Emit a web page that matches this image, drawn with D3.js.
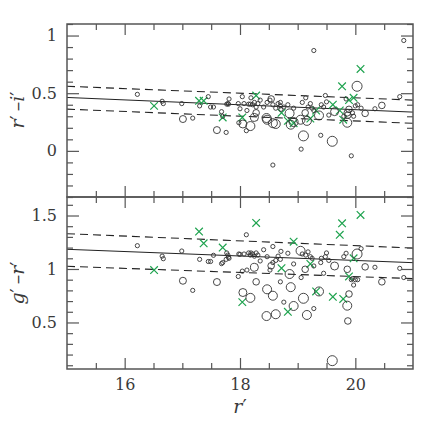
<!DOCTYPE html>
<html>
<head>
<meta charset="utf-8">
<script src="https://cdn.jsdelivr.net/npm/d3@7"></script>
<style>
  body { margin: 0; background: #fff; }
  svg text { fill: #3a3a3a; }
</style>
</head>
<body>
<div id="chart"></div>
<script>
// circles: r' magnitude, r'-i', g'-r', symbol size class
const circR = [16.22,16.65,16.67,16.99,17.18,17.30,17.45,17.49,17.54,17.68,17.70,17.76,17.77,17.79,17.80,17.81,
  17.97,17.98,18.00,18.04,18.07,18.11,18.12,18.15,18.18,18.19,18.22,18.25,18.28,18.31,18.35,18.41,18.47,18.52,
  18.57,18.57,18.62,18.66,18.70,18.71,18.70,18.76,18.83,18.93,19.06,19.08,19.14,19.18,19.22,19.25,19.28,19.28,
  19.40,19.41,19.45,19.48,19.50,19.54,19.80,19.84,19.93,19.95,19.97,20.00,20.04,20.10,20.34,20.77,20.84,
  17.01,17.60,18.05,18.18,18.25,18.28,18.46,18.47,18.54,18.57,18.62,18.86,18.88,18.93,19.05,19.10,19.13,19.16,
  19.37,19.60,19.64,19.86,19.87,19.86,19.89,20.03,20.17,20.46];
const circRI = [0.49,0.43,0.41,0.41,0.284,0.39,0.47,0.38,0.38,0.34,0.30,0.16,0.405,0.41,0.405,0.45,
  0.41,0.244,0.365,0.47,0.41,0.175,0.35,0.405,0.405,0.46,0.40,0.42,0.38,0.41,0.44,0.38,0.42,0.44,
  -0.123,0.40,0.37,0.41,0.39,0.36,0.42,0.38,0.40,0.37,0.015,0.42,0.46,0.38,0.41,0.37,0.87,0.35,
  0.135,0.40,0.38,0.48,0.425,0.31,0.30,0.45,-0.043,0.33,0.30,0.39,0.40,0.37,0.365,0.47,0.957,
  0.276,0.18,0.233,0.215,0.29,0.33,0.285,0.27,0.45,0.24,0.233,0.325,0.227,0.25,0.27,0.13,0.33,0.26,
  0.307,0.083,0.34,0.244,0.31,0.33,0.36,0.56,0.325,0.394];
const circGR = [1.218,1.12,1.096,1.168,0.80,1.09,1.07,1.07,1.128,1.05,1.06,1.09,1.15,1.13,1.11,1.10,
  0.93,1.14,1.137,0.98,1.14,1.32,0.99,1.15,1.13,1.15,1.14,1.12,1.15,1.13,1.075,1.18,1.115,0.99,
  1.21,1.06,1.08,1.12,1.09,1.165,0.88,0.69,1.147,1.047,0.92,1.14,1.13,1.16,1.115,1.10,1.028,0.63,
  1.06,1.10,0.96,1.115,1.15,1.08,1.115,1.147,0.90,0.91,0.85,0.90,0.90,1.19,1.016,1.006,0.92,
  0.89,0.878,0.78,0.73,1.016,0.88,0.56,0.81,1.03,0.75,0.577,0.953,0.83,0.654,1.17,0.726,0.997,0.57,
  0.79,0.143,1.028,0.657,0.514,0.997,0.766,1.14,1.02,0.88];
const circSize = [1,1,1,1,1,1,1,1,1,1,1,1,1,1,1,1,
  1,1,1,1,1,1,1,1,1,1,1,1,1,1,1,1,1,1,
  1,1,1,1,1,1,1,1,1,1,1,1,1,1,1,1,1,1,
  1,1,1,1,1,1,1,1,1,1,1,1,1,1,1,1,1,
  3.5,3.5,4,4.5,4,3.3,4.5,4.5,3.3,4.5,4.5,4.5,4.5,4.5,4.5,5,3.3,4.5,
  4.5,5,4,4.5,3.3,3.3,3.3,5,3.3,3.3];

// crosses
const crossR  = [16.51,17.29,17.37,17.70,18.04,18.28,18.72,18.83,18.93,19.22,19.32,19.61,19.73,19.77,19.79,19.89,19.97,20.09];
const crossRI = [0.39,0.434,0.434,0.29,0.29,0.48,0.33,0.26,0.24,0.28,0.35,0.40,0.35,0.56,0.27,0.44,0.46,0.71];
const crossGR = [0.99,1.35,1.24,1.20,0.69,1.43,1.007,0.60,1.255,1.047,0.79,0.74,1.32,1.427,0.72,0.93,1.10,1.505];

// fit lines (value at r'=15 and r'=21)
const fitX = [15, 21];
const fitRI = [0.463, 0.336], fitRIHi = [0.56, 0.44], fitRILo = [0.362, 0.239];
const fitGR = [1.184, 1.059], fitGRHi = [1.33, 1.196], fitGRLo = [1.025, 0.91];

const xMajor = [16, 18, 20];
const riMajor = [0, 0.5, 1], grMajor = [0.5, 1, 1.5];

const W = 436, H = 436;
const left = 67, right = 413;
const topA = 24, midY = 197, botB = 369;
const serif = "DejaVu Serif";

const svg = d3.select("#chart").append("svg")
  .attr("width", W).attr("height", H);

const x = d3.scaleLinear().domain([15, 21]).range([left, right]);
const yRI = d3.scaleLinear().domain([-0.4, 1.1]).range([midY, topA]);
const yGR = d3.scaleLinear().domain([0.065, 1.673]).range([botB, midY]);

const frameCol = "#555";
const green = "#1fa34f";

function range(a, b, s) {
  const out = [];
  for (let v = a; v <= b + 1e-9; v += s) out.push(+v.toFixed(3));
  return out;
}

function panel(y, yMajorVals, fit, fitHi, fitLo, ys, crossYs, showX, id) {
  const y0 = y.range()[0], y1 = y.range()[1];
  const g = svg.append("g");

  g.append("clipPath").attr("id", id).append("rect")
    .attr("x", left).attr("y", y1).attr("width", right - left).attr("height", y0 - y1);

  const plot = g.append("g").attr("clip-path", `url(#${id})`);

  const line = d3.line().x(d => x(d[0])).y(d => y(d[1]));
  plot.append("path").datum(fitX.map((v, i) => [v, fit[i]]))
    .attr("d", line).attr("fill", "none").attr("stroke", "#222").attr("stroke-width", 1);
  [fitHi, fitLo].forEach(f => {
    plot.append("path").datum(fitX.map((v, i) => [v, f[i]]))
      .attr("d", line).attr("fill", "none").attr("stroke", "#222")
      .attr("stroke-width", 1.1).attr("stroke-dasharray", "8,5");
  });

  // crosses
  const cs = 3.8;
  crossR.forEach((r, i) => {
    const cx = x(r), cy = y(crossYs[i]);
    plot.append("path")
      .attr("d", `M${cx - cs},${cy - cs}L${cx + cs},${cy + cs}M${cx - cs},${cy + cs}L${cx + cs},${cy - cs}`)
      .attr("stroke", green).attr("stroke-width", 1.2).attr("fill", "none");
  });

  // circles
  plot.selectAll("circle.pt").data(circR.map((r, i) => ({ r: r, v: ys[i], s: circSize[i] })))
    .join("circle").attr("class", "pt")
    .attr("cx", d => x(d.r)).attr("cy", d => y(d.v))
    .attr("r", d => d.s === 1 ? 2.1 : d.s)
    .attr("fill", "none").attr("stroke", "#333").attr("stroke-width", 0.9);

  // axes: inward ticks on all four sides
  const yMinor = range(Math.ceil(y.domain()[0] * 10) / 10, y.domain()[1], 0.1)
    .filter(v => !yMajorVals.some(m => Math.abs(m - v) < 1e-6));
  const xMinor = range(15.5, 20.5, 0.5).filter(v => !xMajor.includes(v));

  const ax = (a, t) => { g.append("g").attr("transform", t).call(a)
    .call(s => s.select(".domain").remove())
    .call(s => s.selectAll("line").attr("stroke", frameCol).attr("stroke-width", 1.2)); };

  ax(d3.axisLeft(y).tickValues(yMinor).tickSize(-6).tickFormat(""), `translate(${left},0)`);
  ax(d3.axisRight(y).tickValues(yMinor).tickSize(-6).tickFormat(""), `translate(${right},0)`);
  ax(d3.axisRight(y).tickValues(yMajorVals).tickSize(-12).tickFormat(""), `translate(${right},0)`);
  ax(d3.axisTop(x).tickValues(xMinor).tickSize(-6).tickFormat(""), `translate(0,${y1})`);
  ax(d3.axisTop(x).tickValues(xMajor).tickSize(-11).tickFormat(""), `translate(0,${y1})`);
  ax(d3.axisBottom(x).tickValues(xMinor).tickSize(-6).tickFormat(""), `translate(0,${y0})`);
  const xb = d3.axisBottom(x).tickValues(xMajor).tickSize(-11).tickPadding(10)
    .tickFormat(showX ? d3.format("d") : "");
  ax(xb, `translate(0,${y0})`);
  ax(d3.axisLeft(y).tickValues(yMajorVals).tickSize(-12).tickPadding(10).tickFormat(d => d), `translate(${left},0)`);

  g.selectAll("g").attr("font-family", serif);
  g.selectAll("text").attr("font-size", 16).style("fill", "#3a3a3a")
    .attr("font-family", serif);

  g.append("rect").attr("x", left).attr("y", y1)
    .attr("width", right - left).attr("height", y0 - y1)
    .attr("fill", "none").attr("stroke", frameCol).attr("stroke-width", 1.5);
}

panel(yRI, riMajor, fitRI, fitRIHi, fitRILo, circRI, crossRI, false, "clipA");
panel(yGR, grMajor, fitGR, fitGRHi, fitGRLo, circGR, crossGR, true, "clipB");

// axis titles
function title(xp, yp, rot, parts) {
  const t = svg.append("text")
    .attr("transform", `translate(${xp},${yp}) rotate(${rot})`)
    .attr("text-anchor", "middle").attr("font-size", 19)
    .attr("font-family", serif);
  parts.forEach(p => t.append("tspan").attr("font-style", p[1] ? "italic" : "normal").text(p[0]));
}
title(24, 110, -90, [["r", 1], ["\u2032\u2009\u2013", 0], ["i", 1], ["\u2032", 0]]);
title(24, 283, -90, [["g", 1], ["\u2032\u2009\u2013", 0], ["r", 1], ["\u2032", 0]]);
title(240, 413, 0, [["r", 1], ["\u2032", 0]]);
</script>
</body>
</html>
